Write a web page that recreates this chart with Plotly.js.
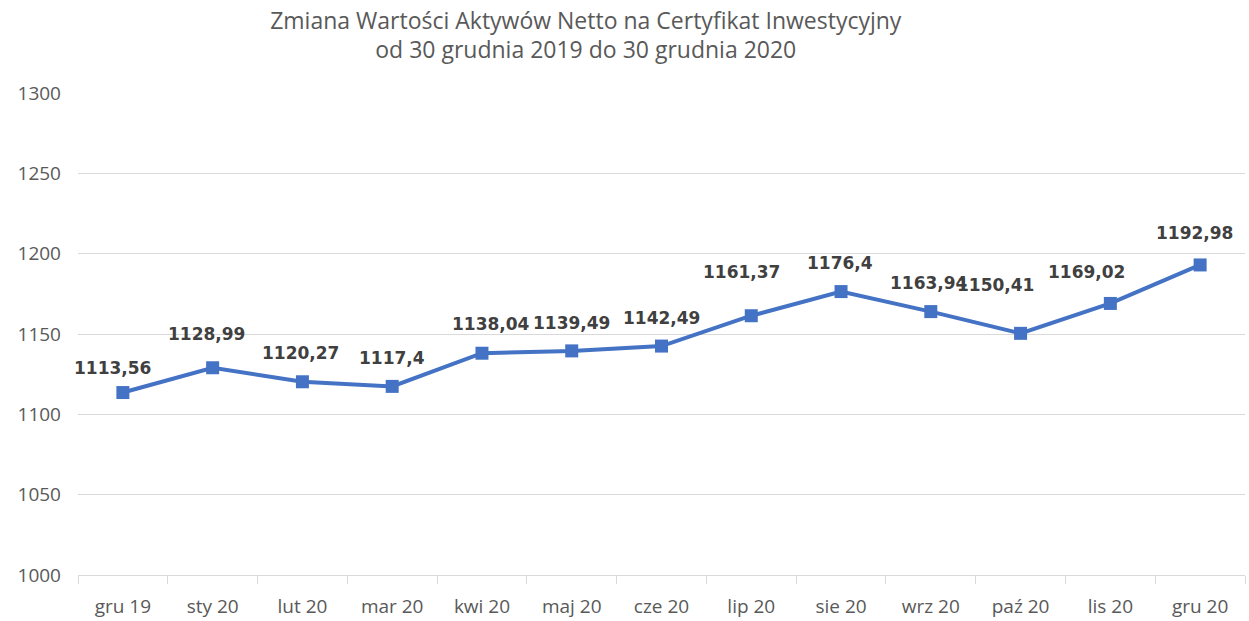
<!DOCTYPE html>
<html>
<head>
<meta charset="utf-8">
<script src="https://cdn.plot.ly/plotly-3.0.1.min.js"></script>
<style>html,body{margin:0;padding:0;background:#fff;}#chart{width:1249px;height:621px;}</style>
</head>
<body>
<div id="chart"></div>
<script>
var categories = ["gru 19","sty 20","lut 20","mar 20","kwi 20","maj 20","cze 20","lip 20","sie 20","wrz 20","paź 20","lis 20","gru 20"];
var values = [1113.56,1128.99,1120.27,1117.4,1138.04,1139.49,1142.49,1161.37,1176.4,1163.94,1150.41,1169.02,1192.98];
var labels = ["1113,56","1128,99","1120,27","1117,4","1138,04","1139,49","1142,49","1161,37","1176,4","1163,94","1150,41","1169,02","1192,98"];
var yTicks = [1000,1050,1100,1150,1200,1250,1300];

// manual nudges of the data labels (pixels), as in the original
var labelDx = [-10,-6,-2,0,9,0,0,-10,-1,-2,-25,-24,-6];
var labelDy = [25,34,29,28,29,28,28,44,29,29,48,31,32];

var fontFam = "'Open Sans', sans-serif";
var trace = {
  x: categories,
  y: values,
  type: 'scatter',
  mode: 'lines+markers',
  line: {color: '#4472C4', width: 4},
  marker: {symbol: 'square', size: 13, color: '#4472C4'},
  cliponaxis: false,
  hoverinfo: 'none'
};
var annotations = categories.map(function (c, i) {
  return {
    x: c, y: values[i], xref: 'x', yref: 'y',
    text: labels[i], showarrow: false,
    xanchor: 'center', yanchor: 'middle',
    xshift: labelDx[i], yshift: labelDy[i],
    font: {family: "'DejaVu Sans', sans-serif", size: 17, color: '#404040', weight: 'bold'}
  };
});
var layout = {
  width: 1249, height: 621,
  margin: {l: 78, r: 4, t: 93, b: 46},
  paper_bgcolor: '#fff', plot_bgcolor: '#fff',
  showlegend: false,
  annotations: annotations,
  title: {
    text: 'Zmiana Wartości Aktywów Netto na Certyfikat Inwestycyjny<br>od 30 grudnia 2019 do 30 grudnia 2020',
    font: {family: fontFam, size: 23, color: '#595959'},
    x: 0.469, xanchor: 'center', xref: 'container',
    y: 0.954, yanchor: 'top', yref: 'container'
  },
  xaxis: {
    type: 'category',
    showgrid: false,
    showline: true, linecolor: '#d9d9d9', linewidth: 1,
    ticks: 'outside', tickson: 'boundaries', ticklen: 8, tickcolor: '#d9d9d9',
    ticklabelstandoff: 14,
    tickfont: {family: fontFam, size: 19, color: '#595959'},
    range: [-0.5, 12.5],
    zeroline: false
  },
  yaxis: {
    range: [1000, 1300],
    tickvals: yTicks,
    ticktext: yTicks.map(String),
    showgrid: true, gridcolor: '#d9d9d9', gridwidth: 1,
    showline: false, zeroline: false,
    ticks: '',
    ticklabelstandoff: 16,
    tickfont: {family: fontFam, size: 19, color: '#595959'}
  }
};
Plotly.newPlot('chart', [trace], layout, {displayModeBar: false, staticPlot: true});
</script>
</body>
</html>
